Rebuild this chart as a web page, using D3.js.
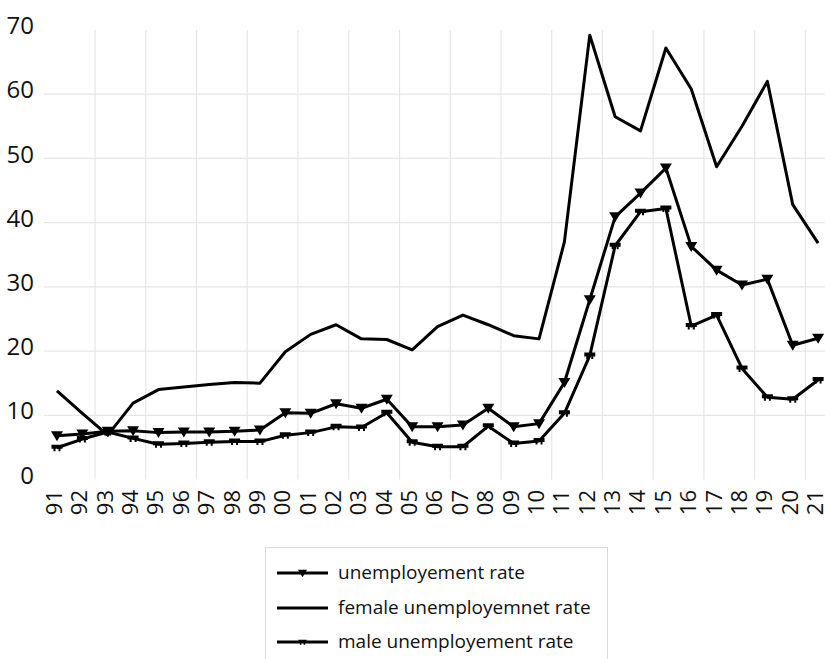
<!DOCTYPE html>
<html>
<head>
<meta charset="utf-8">
<script src="https://cdn.jsdelivr.net/npm/d3@7"></script>
<style>
  html, body { margin: 0; padding: 0; background: #ffffff; }
  svg { display: block; font-family: "Open Sans", sans-serif; }
</style>
</head>
<body>
<svg id="chart" width="825" height="659"></svg>
<script>
// Years (two-digit labels), 1991 to 2021
const years = ["91","92","93","94","95","96","97","98","99","00","01","02","03","04","05",
               "06","07","08","09","10","11","12","13","14","15","16","17","18","19","20","21"];

// Overall unemployment rate (%)
const totalRate = [6.8, 7.1, 7.5, 7.6, 7.3, 7.4, 7.4, 7.5, 7.7, 10.4, 10.3, 11.8, 11.1, 12.5, 8.2,
                   8.2, 8.5, 11.1, 8.2, 8.7, 15.1, 28.0, 40.9, 44.6, 48.5, 36.3, 32.6, 30.3, 31.2, 20.9, 22.0];

// Female unemployment rate (%)
const femaleRate = [13.8, 10.3, 6.9, 11.9, 14.0, 14.4, 14.8, 15.1, 15.0, 19.9, 22.6, 24.1, 21.9, 21.8, 20.2,
                    23.8, 25.6, 24.1, 22.4, 21.9, 37.0, 69.2, 56.5, 54.3, 67.2, 60.8, 48.7, 55.0, 62.0, 42.8, 36.8];

// Male unemployment rate (%)
const maleRate = [4.95, 6.3, 7.4, 6.4, 5.5, 5.6, 5.8, 5.9, 5.9, 6.9, 7.3, 8.2, 8.1, 10.4, 5.8,
                  5.1, 5.1, 8.3, 5.6, 6.0, 10.3, 19.3, 36.4, 41.7, 42.2, 23.9, 25.6, 17.3, 12.8, 12.5, 15.5];

const yTicks = [0, 10, 20, 30, 40, 50, 60, 70];
const seriesNames = ["unemployement rate", "female unemployemnet rate", "male unemployement rate"];

const svg = d3.select("#chart");

const x = d3.scaleBand().domain(years).range([44.3, 830.8]).padding(0);
const y = d3.scaleLinear().domain([0, 70]).range([479.5, 30]);
const cx = d => x(d) + x.bandwidth() / 2;

// Gridlines
const grid = svg.append("g").attr("stroke", "#e6e6e6").attr("stroke-width", 1.2);
grid.selectAll("line.h")
  .data(yTicks.filter(t => t > 0 && t < 70))
  .join("line")
  .attr("x1", 44.3).attr("x2", 825)
  .attr("y1", d => y(d)).attr("y2", d => y(d));
grid.selectAll("line.v")
  .data(years.filter((d, i) => i >= 2 && i % 2 === 0))
  .join("line")
  .attr("x1", d => x(d)).attr("x2", d => x(d))
  .attr("y1", y(70)).attr("y2", y(0));

// Y axis labels
const yAxis = d3.axisLeft(y).tickValues(yTicks).tickSize(0).tickPadding(0);
const yg = svg.append("g").attr("transform", "translate(34,-4)").call(yAxis);
yg.select(".domain").remove();
yg.selectAll("text")
  .attr("font-size", 24).attr("fill", "#111").attr("font-family", "Open Sans, sans-serif");

// X axis labels, rotated
const xAxis = d3.axisBottom(x).tickSize(0).tickPadding(0);
const xg = svg.append("g").attr("transform", "translate(0,490)").call(xAxis);
xg.select(".domain").remove();
xg.selectAll("text")
  .attr("font-size", 22).attr("fill", "#111").attr("font-family", "Open Sans, sans-serif")
  .attr("text-anchor", "end")
  .attr("transform", "rotate(-90)")
  .attr("x", 0).attr("y", -3).attr("dy", "0.36em");

// Marker shapes
const triPath = "M-6,-4.5 L6,-4.5 L0,5.5 Z";
const malePath = "M-5.5,-3 H5.5 V1 H3.5 V3.5 H1.5 V1 H-1.5 V3.5 H-3.5 V1 H-5.5 Z";

const line = d3.line().x((d, i) => cx(years[i])).y(d => y(d));

const plot = svg.append("g");

function drawSeries(values, marker) {
  plot.append("path")
    .datum(values)
    .attr("fill", "none").attr("stroke", "#000").attr("stroke-width", 3)
    .attr("stroke-linejoin", "round")
    .attr("d", line);
  if (marker) {
    plot.append("g").selectAll("path")
      .data(values)
      .join("path")
      .attr("d", marker)
      .attr("fill", "#000")
      .attr("transform", (d, i) => `translate(${cx(years[i])},${y(d)})`);
  }
}

drawSeries(femaleRate, null);
drawSeries(maleRate, malePath);
drawSeries(totalRate, triPath);

// Legend
const legend = svg.append("g");
legend.append("rect")
  .attr("x", 265.5).attr("y", 547.5).attr("width", 342).attr("height", 140)
  .attr("fill", "#fff").attr("stroke", "#d9d9d9").attr("stroke-width", 1);

const markers = [triPath, null, malePath];
const rowY = [573, 608, 642];
seriesNames.forEach((name, i) => {
  const g = legend.append("g").attr("transform", `translate(0,${rowY[i]})`);
  g.append("line").attr("x1", 277).attr("x2", 328).attr("y1", 0).attr("y2", 0)
    .attr("stroke", "#000").attr("stroke-width", 3);
  if (markers[i]) {
    g.append("path").attr("d", markers[i]).attr("fill", "#000")
      .attr("transform", "translate(302.5,0) scale(0.75)");
  }
  g.append("text").attr("x", 338).attr("y", 0).attr("dy", "0.3em")
    .attr("font-size", 19).attr("fill", "#111").text(name);
});
</script>
</body>
</html>
